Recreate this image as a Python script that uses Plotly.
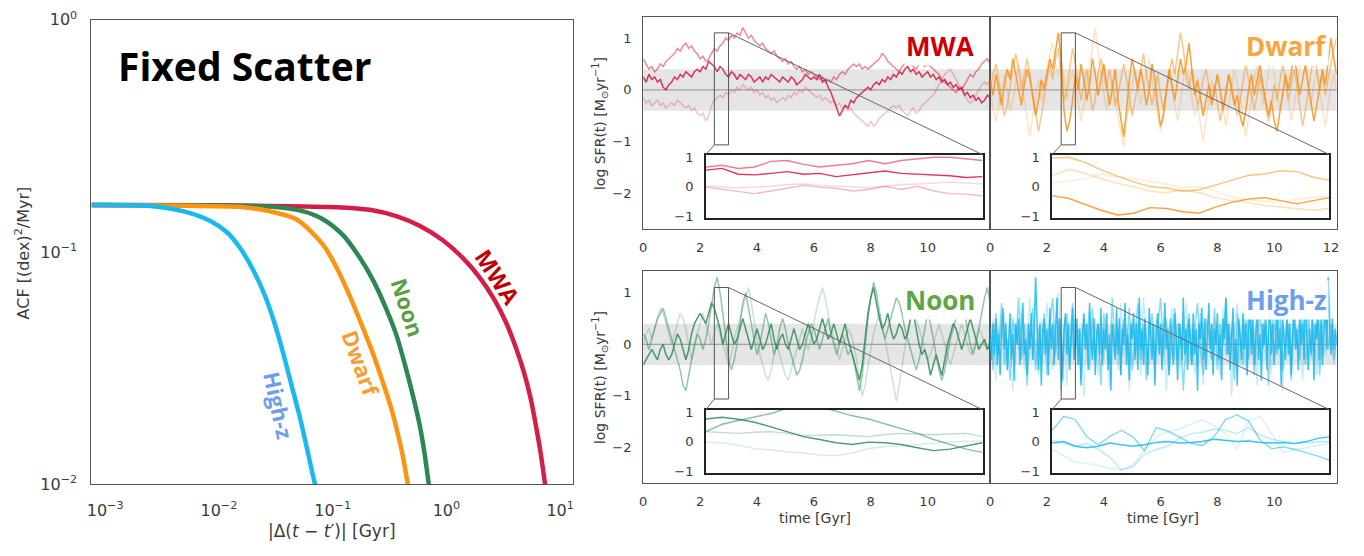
import plotly.graph_objects as go

W, H = 1364, 556

# ---------------- Left panel: ACF curves ----------------
HIGHZ_LAG = [7.6e-4, 2.51e-3, 4.92e-3, 8.41e-3, 0.01178, 0.01542, 0.02017, 0.02553, 0.03125,
             0.0369, 0.0437, 0.0517, 0.0591, 0.0653, 0.0700, 0.075]
HIGHZ_ACF = [0.1594, 0.1579, 0.1496, 0.1361, 0.1217, 0.1038, 0.0831, 0.0645, 0.0484,
             0.0364, 0.0265, 0.0193, 0.01449, 0.01159, 0.0100, 0.0083]
DWARF_LAG = [7.6e-4, 4.92e-3, 0.01648, 0.02825, 0.0483, 0.0828, 0.1082, 0.1418,
             0.1855, 0.227, 0.2775, 0.328, 0.375, 0.415, 0.459, 0.49]
DWARF_ACF = [0.1594, 0.158, 0.156, 0.1496, 0.1381, 0.1072, 0.0858, 0.0645,
             0.0469, 0.0364, 0.02735, 0.0212, 0.01644, 0.01318, 0.0100, 0.0085]
NOON_LAG = [7.6e-4, 0.01, 0.02825, 0.0553, 0.0828, 0.1239, 0.1735, 0.227, 0.2965, 0.363,
            0.4295, 0.508, 0.581, 0.643, 0.701, 0.74]
NOON_ACF = [0.1594, 0.1585, 0.1569, 0.1496, 0.1381, 0.1179, 0.0944, 0.0755, 0.0568, 0.0440,
            0.0331, 0.0241, 0.0181, 0.0136, 0.0100, 0.0085]
MWA_LAG = [7.6e-4, 0.01, 0.0553, 0.1082, 0.212, 0.363, 0.581, 0.930, 1.392, 1.95, 2.64, 3.33,
           4.08, 4.83, 5.52, 6.10, 6.75, 7.38, 7.8]
MWA_ACF = [0.1594, 0.1590, 0.1569, 0.156, 0.152, 0.1427, 0.1297, 0.1124, 0.0944, 0.078,
           0.0624, 0.05, 0.0388, 0.0301, 0.0233, 0.0181, 0.0136, 0.0100, 0.0085]

ACF_XTICKS = [1e-3, 1e-2, 1e-1, 1, 10]
ACF_XTEXT = ["10<sup>−3</sup>", "10<sup>−2</sup>", "10<sup>−1</sup>", "10<sup>0</sup>", "10<sup>1</sup>"]
ACF_YTICKS = [1e-2, 1e-1, 1]
ACF_YTEXT = ["10<sup>−2</sup>", "10<sup>−1</sup>", "10<sup>0</sup>"]

# ---------------- Right panels: log SFR(t) time series ----------------
MAIN_STEP = 0.1
HIGHZ_STEP = 0.05

MWA_DARK = [0.25, 0.15, 0.3, 0.2, 0.25, 0.15, 0.2, 0.05, 0.0, 0.1,
            0.15, 0.25, 0.2, 0.3, 0.25, 0.35, 0.3, 0.25, 0.35, 0.4,
            0.35, 0.45, 0.4, 0.55, 0.5, 0.45, 0.35, 0.45, 0.4, 0.3,
            0.25, 0.35, 0.3, 0.2, 0.3, 0.25, 0.2, 0.3, 0.25, 0.15,
            0.2, 0.25, 0.15, 0.25, 0.2, 0.3, 0.25, 0.2, 0.15, 0.25,
            0.2, 0.15, 0.25, 0.2, 0.1, 0.15, 0.2, 0.3, 0.25, 0.2,
            0.25, 0.2, 0.3, 0.15, 0.2, 0.05, -0.05, -0.2, -0.35, -0.5,
            -0.4, -0.3, -0.35, -0.2, -0.25, -0.15, -0.1, -0.05, 0.0, 0.05,
            0.0, 0.1, 0.15, 0.1, 0.2, 0.15, 0.25, 0.2, 0.3, 0.25,
            0.35, 0.3, 0.4, 0.45, 0.35, 0.4, 0.3, 0.35, 0.25, 0.3,
            0.35, 0.25, 0.3, 0.2, 0.25, 0.15, 0.2, 0.1, 0.15, 0.05,
            0.1, 0.0, 0.05, -0.1, -0.05, -0.15, -0.1, -0.2, -0.15, -0.25,
            -0.2, -0.1, -0.15]
MWA_MED = [0.6, 0.5, 0.4, 0.45, 0.35, 0.4, 0.5, 0.45, 0.55, 0.6,
           0.65, 0.7, 0.8, 0.75, 0.85, 0.9, 0.8, 0.85, 0.75, 0.7,
           0.6, 0.65, 0.55, 0.6, 0.7, 0.8, 0.75, 0.85, 0.9, 1.0,
           0.95, 1.05, 1.0, 1.1, 1.05, 1.2, 1.1, 1.0, 1.05, 0.95,
           0.9, 0.85, 0.9, 0.8, 0.75, 0.7, 0.75, 0.65, 0.6, 0.55,
           0.6, 0.5, 0.55, 0.45, 0.4, 0.45, 0.35, 0.4, 0.3, 0.35,
           0.3, 0.25, 0.2, 0.25, 0.15, 0.2, 0.15, 0.25, 0.2, 0.3,
           0.35, 0.3, 0.4, 0.45, 0.5, 0.45, 0.5, 0.4, 0.45, 0.4,
           0.45, 0.5, 0.55, 0.6, 0.7, 0.65, 0.55, 0.5, 0.45, 0.4,
           0.35, 0.45, 0.5, 0.55, 0.5, 0.45, 0.4, 0.5, 0.55, 0.45,
           0.5, 0.45, 0.4, 0.35, 0.3, 0.2, 0.15, 0.1, 0.05, 0.0,
           -0.05, 0.05, 0.0, 0.1, 0.2, 0.3, 0.25, 0.35, 0.4, 0.5,
           0.55, 0.6, 0.5]
MWA_LIGHT = [-0.15, -0.25, -0.2, -0.3, -0.25, -0.2, -0.3, -0.25, -0.35, -0.3,
             -0.25, -0.3, -0.2, -0.25, -0.3, -0.35, -0.3, -0.4, -0.35, -0.45,
             -0.5, -0.45, -0.6, -0.5, -0.3, -0.2, -0.15, -0.1, -0.15, -0.05,
             -0.1, 0.0, -0.05, 0.05, 0.0, 0.1, 0.05, 0.0, 0.05, -0.05,
             0.0, -0.1, -0.05, -0.15, -0.1, -0.2, -0.15, -0.25, -0.2, -0.15,
             -0.2, -0.1, -0.15, -0.05, -0.1, 0.0, -0.05, 0.05, 0.0, -0.05,
             -0.1, -0.15, -0.1, -0.2, -0.15, -0.2, -0.25, -0.2, -0.3, -0.25,
             -0.35, -0.3, -0.4, -0.35, -0.45, -0.5, -0.55, -0.6, -0.65, -0.7,
             -0.6, -0.7, -0.65, -0.55, -0.5, -0.45, -0.4, -0.35, -0.3, -0.35,
             -0.3, -0.4, -0.45, -0.5, -0.4, -0.35, -0.45, -0.4, -0.3, -0.25,
             -0.2, -0.15, -0.1, 0.0, 0.1, 0.2, 0.3, 0.35, 0.4, 0.3,
             0.2, 0.1, 0.0, -0.1, -0.2, -0.25, -0.2, -0.1, 0.0, 0.1,
             0.15, 0.1, 0.2]

DWARF_DARK = [0.2, -0.1, 0.3, 0.0, -0.3, 0.1, 0.4, 0.2, 0.6, 0.3,
              0.0, -0.3, 0.1, 0.4, 0.2, -0.2, -0.5, -0.2, 0.2, 0.0,
              0.3, 0.6, 0.4, 0.8, 1.1, 0.6, -0.4, -0.8, -0.6, -0.2,
              0.3, 0.0, 0.5, 0.2, -0.2, 0.1, 0.6, 0.3, -0.1, 0.2,
              0.5, 0.1, -0.3, 0.0, 0.4, -0.2, -0.6, -0.9, -0.4, 0.2,
              0.6, 0.3, 0.0, 0.4, 0.1, -0.3, 0.0, 0.5, 0.2, -0.3,
              -0.7, -0.5, 0.0, 0.4, 0.1, -0.2, 0.2, 0.6, 0.3, 0.5,
              0.9, 0.4, -0.1, 0.2, -0.2, -0.5, -0.2, 0.1, -0.3, 0.0,
              0.3, 0.0, -0.4, -0.1, 0.3, 0.0, -0.3, -0.1, -0.5, -0.7,
              -0.4, 0.0, 0.3, -0.1, 0.2, 0.5, 0.1, -0.2, -0.5, -0.2,
              -0.6, -0.8, -0.4, 0.0, 0.3, 0.0, 0.4, 0.7, 0.3, -0.1,
              0.2, 0.5, 0.1, -0.3, -0.6, -0.3, 0.1, 0.4, 0.1, 0.6,
              1.0, 0.6, 0.3]
DWARF_MED = [0.0, 0.3, 0.5, 0.2, -0.2, -0.5, -0.3, 0.1, 0.4, 0.7,
             0.4, 0.0, 0.3, 0.6, 0.3, -0.1, -0.4, -0.8, -0.5, -0.1,
             0.2, 0.5, 0.2, 0.6, 0.8, 0.3, -0.2, 0.0, 0.4, 0.8,
             0.5, 0.1, -0.2, 0.1, 0.4, 0.0, -0.4, -0.2, 0.3, 0.6,
             0.3, 0.0, 0.4, 0.1, -0.3, -0.1, 0.2, 0.5, 0.2, -0.2,
             -0.5, -0.2, 0.1, 0.4, 0.7, 0.3, 0.0, -0.3, 0.0, 0.3,
             -0.1, -0.4, 0.0, 0.3, 0.6, 0.3, 0.7, 1.1, 0.8, 0.3,
             0.0, 0.4, 0.1, -0.3, -0.1, 0.2, 0.4, 0.1, -0.2, 0.1,
             -0.3, -0.6, -0.3, 0.0, 0.3, 0.1, -0.2, -0.5, -0.2, 0.2,
             0.5, 0.2, -0.1, -0.4, -0.1, 0.3, 0.0, -0.3, -0.6, -0.3,
             0.1, -0.2, 0.2, 0.5, 0.2, -0.2, 0.1, 0.4, 0.1, -0.3,
             -0.7, -0.4, 0.0, 0.4, 0.7, 0.4, 0.0, 0.3, -0.1, 0.2,
             0.5, 0.8, 1.0]
DWARF_LIGHT = [0.1, -0.4, -0.6, -0.3, 0.0, 0.3, 0.0, -0.4, -0.2, 0.2,
               0.5, 0.2, -0.2, -0.6, -0.9, -0.5, -0.1, 0.2, -0.2, 0.1,
               0.4, 0.7, 0.9, 0.5, 0.3, 0.6, 0.2, -0.2, 0.1, 0.4,
               0.1, -0.3, -0.6, -0.3, 0.1, 0.5, 0.8, 1.2, 0.7, 0.3,
               -0.1, -0.4, -0.1, 0.2, -0.2, -0.5, -0.8, -1.1, -0.6, -0.2,
               0.1, 0.4, 0.1, -0.3, 0.0, 0.3, 0.6, 0.2, -0.1, -0.5,
               -0.8, -0.4, 0.0, 0.3, 0.0, -0.3, -0.6, -0.2, 0.2, 0.5,
               0.2, -0.2, -0.5, -0.3, -0.7, -1.0, -0.6, -0.2, 0.2, -0.1,
               0.3, 0.0, -0.4, -0.7, -0.3, 0.1, 0.4, 0.1, -0.2, -0.5,
               -0.9, -0.5, -0.1, 0.2, 0.5, 0.1, -0.3, 0.0, 0.4, 0.7,
               0.3, -0.1, -0.4, -0.1, 0.2, -0.2, -0.6, -0.3, 0.1, 0.5,
               0.8, 0.4, 0.0, -0.3, 0.1, 0.4, 0.0, -0.4, -0.7, -0.3,
               0.1, 0.3, 0.0]

NOON_DARK = [-0.4, -0.3, -0.2, -0.1, -0.2, -0.3, -0.1, 0.0, -0.2, -0.3,
             -0.2, 0.0, 0.2, 0.1, -0.1, -0.3, -0.1, 0.2, 0.4, 0.5,
             0.6, 0.5, 0.4, 0.6, 0.8, 0.7, 0.5, 0.3, 0.0, 0.2,
             0.4, 0.2, 0.0, 0.1, 0.3, 0.5, 0.3, 0.1, -0.1, 0.1,
             0.3, 0.1, -0.1, 0.0, 0.2, 0.4, 0.1, -0.1, 0.1, 0.2,
             0.0, -0.1, 0.1, 0.3, 0.1, -0.1, 0.0, 0.2, 0.4, 0.2,
             0.0, 0.1, 0.3, 0.5, 0.3, 0.1, 0.2, 0.4, 0.2, 0.0,
             0.2, 0.4, 0.1, -0.1, -0.3, -0.5, -0.7, -0.4, 0.1, 0.6,
             0.9, 1.1, 0.8, 0.5, 0.3, 0.4, 0.6, 0.3, 0.1, 0.2,
             0.4, 0.3, 0.1, 0.2, 0.5, 0.6, 0.3, 0.0, -0.2, -0.1,
             -0.3, -0.6, -0.4, -0.2, -0.4, -0.6, -0.3, 0.0, 0.2, 0.4,
             0.3, 0.1, -0.1, 0.1, 0.3, 0.5, 0.3, 0.1, -0.1, 0.0,
             0.1, -0.1, 0.0]
NOON_MED = [0.2, 0.1, -0.1, 0.1, 0.3, 0.5, 0.6, 0.7, 0.5, 0.3,
            0.1, -0.1, -0.3, -0.5, -0.8, -0.9, -0.6, -0.3, 0.0, 0.2,
            0.1, -0.1, 0.1, 0.4, 0.8, 1.1, 1.3, 1.0, 0.6, 0.2,
            -0.3, -0.5, -0.3, 0.0, 0.4, 0.8, 1.0, 0.7, 0.4, 0.1,
            -0.2, 0.0, 0.3, 0.6, 0.4, 0.1, -0.2, 0.0, 0.3, 0.5,
            0.3, 0.0, -0.2, -0.4, -0.6, -0.5, -0.3, 0.0, 0.2, 0.4,
            0.3, 0.1, -0.1, 0.1, 0.3, 0.5, 0.2, 0.0, -0.2, 0.0,
            0.2, 0.0, -0.2, -0.1, -0.3, -0.6, -0.9, -0.6, 0.0, 0.5,
            0.9, 1.2, 1.0, 0.6, 0.3, 0.1, 0.3, 0.5, 0.7, 0.9,
            0.8, 0.6, 0.3, 0.1, -0.1, -0.3, -0.5, -0.3, 0.0, 0.3,
            0.6, 0.4, 0.1, -0.2, -0.5, -0.7, -0.5, -0.2, 0.1, 0.3,
            0.5, 0.7, 0.9, 0.6, 0.3, 0.0, -0.2, 0.0, 0.3, 0.6,
            0.9, 1.1, 0.8]
NOON_LIGHT = [0.0, 0.2, 0.3, 0.1, 0.3, 0.5, 0.7, 0.6, 0.4, 0.2,
              0.0, 0.2, 0.4, 0.6, 0.5, 0.3, 0.0, -0.3, -0.1, 0.2,
              0.4, 0.6, 0.4, 0.2, 0.0, 0.2, 0.4, 0.2, 0.0, -0.2,
              -0.4, -0.2, 0.1, 0.3, 0.5, 0.7, 0.9, 1.1, 0.8, 0.4,
              0.1, -0.2, -0.4, -0.6, -0.7, -0.5, -0.2, 0.0, -0.2, -0.4,
              -0.6, -0.7, -0.5, -0.3, -0.1, 0.1, 0.3, 0.1, -0.1, 0.1,
              0.4, 0.7, 0.9, 1.1, 0.9, 0.6, 0.3, 0.1, -0.1, -0.3,
              -0.1, 0.1, 0.3, 0.2, 0.0, -0.3, -0.7, -1.0, -0.8, -0.4,
              -0.1, 0.2, 0.4, 0.6, 0.4, 0.1, -0.2, -0.5, -0.8, -1.1,
              -0.8, -0.4, 0.0, 0.3, 0.5, 0.7, 0.5, 0.3, 0.1, -0.1,
              -0.3, -0.2, 0.0, 0.2, 0.4, 0.2, 0.0, -0.2, -0.4, -0.2,
              0.0, 0.2, 0.4, 0.2, 0.0, -0.2, -0.1, 0.1, 0.3, 0.2,
              0.0, -0.1, 0.1]

HIGHZ_DARK = [0.1, -0.3, 0.4, -0.2, 0.5, -0.4, 0.2, -0.6, 0.3, 0.7, -0.1, 0.4, -0.5, 0.1, 0.6, -0.3, 0.2, -0.7, 0.4, 0.0,
              0.5, -0.4, 0.3, 0.8, -0.2, 0.1, -0.6, 0.4, -0.1, 0.6, -0.3, 0.3, 1.3, 0.2, -0.5, 0.4, -0.8, 0.1, 0.5, -0.2,
              0.3, -0.6, 0.7, -0.1, 0.4, -0.4, 0.2, 0.9, -0.3, 0.5, 0.0, -0.7, 0.3, 0.6, -0.2, 0.4, -0.5, 0.2, 0.7, -0.3,
              0.1, 0.5, -0.4, 0.3, -0.8, 0.2, 0.6, -0.1, 0.4, -0.5, 0.8, 0.0, -0.3, 0.5, -0.6, 0.2, 0.4, -0.2, 0.7, -0.4,
              0.3, -0.1, 0.6, -0.5, 0.2, -0.9, 0.4, 0.1, -0.3, 0.7, -0.2, 0.5, -0.6, 0.3, 0.0, 0.8, -0.4, 0.2, -0.7, 0.4,
              0.1, 0.6, -0.3, 0.4, -0.5, 0.9, -0.1, 0.3, -0.4, 0.5, 0.0, -0.6, 0.7, 0.2, -0.3, 0.4, -0.8, 0.3, 0.6, -0.2,
              0.4, -0.5, 0.2, 0.8, -0.1, 0.3, -0.6, 0.5, 0.0, -0.4, 0.6, 0.1, -0.7, 0.4, 0.2, -0.3, 0.9, -0.2, 0.3, -0.5,
              0.5, 0.0, -0.4, 0.6, -0.2, 0.3, -0.9, 0.4, 0.1, 0.7, -0.3, 0.5, -0.5, 0.2, 0.8, -0.1, 0.4, -0.6, 0.3, 0.0,
              0.6, -0.3, 0.2, -0.7, 0.5, 0.1, 0.9, -0.2, 0.4, -0.5, 0.3, 0.7, -0.4, 0.1, -0.8, 0.5, 0.2, -0.3, 0.6, -0.1,
              0.4, -0.6, 0.3, 0.8, -0.2, 0.5, -0.4, 0.1, 0.7, -0.3, 0.2, -0.7, 0.4, 0.0, 0.6, -0.5, 0.3, 0.9, -0.2, 0.4,
              -0.4, 0.2, 0.6, -0.1, 0.3, -0.8, 0.5, 0.1, -0.3, 0.7, -0.2, 0.4, -0.6, 0.2, 0.8, -0.1, 0.3, -0.5, 0.6, 0.0,
              0.4, -0.3, 1.0, 0.2, -0.5, 0.3, -0.2, 0.6, -0.7, 0.4, 0.1, 0.7, -0.3, 0.5, -0.4, 0.2, 0.8, -0.1, 1.3, 0.3,
              -0.2, 0.5, -0.1, 0.3, 0.0]
HIGHZ_MED = [0.3, -0.5, 0.6, -0.2, 0.8, -0.4, 0.1, -0.7, 0.5, 0.0,
             0.9, -0.3, 0.4, -0.8, 0.2, 0.7, -0.5, 0.3, -0.1, 0.6,
             -0.6, 0.4, 0.9, -0.2, 0.5, -0.9, 0.2, 0.6, -0.4, 0.8,
             -0.1, 0.3, -0.7, 0.5, 0.1, -0.5, 0.7, -0.3, 0.4, -0.8,
             0.6, 0.0, -0.4, 0.9, -0.2, 0.3, -0.6, 0.5, -0.1, 0.7,
             -0.5, 0.2, 0.8, -0.3, 0.4, -0.7, 0.1, 0.6, -0.4, 0.3,
             0.9, -0.2, 0.5, -0.6, 0.2, 0.7, -0.3, 0.4, -0.9, 0.1,
             0.6, -0.4, 0.3, 0.8, -0.1, -0.6, 0.5, 0.2, -0.3, 0.7,
             -0.5, 0.4, 0.0, 0.9, -0.2, 0.3, -0.7, 0.6, 0.1, -0.4,
             0.8, -0.3, 0.5, -0.6, 0.2, 0.7, -0.1, 0.4, -0.8, 0.3,
             0.6, -0.2, 0.9, -0.5, 0.1, 0.4, -0.7, 0.5, 0.0, -0.3,
             0.7, -0.4, 0.3, 0.8, -0.2, 0.5, -0.6, 0.2, 1.1, -0.1,
             0.4, -0.3, 0.2]
HIGHZ_LIGHT = [-0.2, 0.5, -0.7, 0.3, 0.1, 0.6, -0.4, 0.2, -0.9, 0.4,
               -0.1, 0.7, -0.5, 0.3, 0.9, -0.3, 0.1, -0.6, 0.5, -0.2,
               0.8, -0.1, -0.5, 0.4, 1.0, -0.3, 0.2, -0.8, 0.5, 0.0,
               0.6, -0.4, 0.3, -1.0, 0.2, 0.7, -0.2, 0.5, -0.6, 0.1,
               -0.3, 0.6, -0.8, 0.4, 0.1, -0.5, 0.8, -0.2, 0.3, -0.9,
               0.5, -0.1, 0.4, -0.6, 0.9, 0.0, -0.4, 0.3, -0.7, 0.6,
               -0.2, 0.4, -0.9, 0.2, 0.7, -0.3, 0.5, -0.5, 0.1, 0.8,
               -0.4, 0.3, -0.6, 0.0, 0.6, -0.8, 0.4, 0.1, -0.3, 0.5,
               0.2, -0.6, 0.7, -0.2, 0.4, -1.0, 0.3, 0.8, -0.4, 0.1,
               -0.5, 0.6, -0.1, 0.3, -0.8, 0.5, 0.9, -0.3, 0.2, -0.6,
               0.4, -0.2, 0.7, -0.9, 0.3, 0.1, -0.4, 0.8, -0.1, 0.5,
               -0.7, 0.2, 0.6, -0.3, 0.4, -0.6, 0.9, 0.1, -0.2, 1.2,
               0.3, -0.4, 0.1]

# ---------------- Insets: zoom on 2.5-3.0 Gyr ----------------
INSET_T0, INSET_T1 = 2.5, 3.0
MWA_IN = [
    [0.02, -0.01, -0.03, 0.0, 0.02, 0.08, 0.10, 0.05, 0.02, -0.01, -0.03, 0.02, 0.08, 0.10, 0.13, 0.16, 0.13, 0.10],
    [-0.01, -0.09, -0.16, -0.23, -0.14, -0.05, 0.05, -0.01, -0.05, -0.14, -0.09, 0.02, -0.09, 0.02, -0.14, -0.23, -0.25, -0.31],
    [0.68, 0.74, 0.63, 0.68, 0.87, 0.90, 0.77, 0.68, 0.74, 0.79, 0.90, 0.79, 0.90, 0.96, 1.01, 1.01, 0.96, 0.90],
    [0.57, 0.63, 0.43, 0.41, 0.46, 0.52, 0.43, 0.46, 0.35, 0.41, 0.46, 0.54, 0.46, 0.43, 0.41, 0.38, 0.32, 0.35],
]
DWARF_IN = [
    [0.12, 0.19, 0.28, 0.44, 0.33, 0.28, 0.19, 0.09, -0.02, 0.01, -0.13, -0.34, -0.45, -0.49, -0.53, -0.42, -0.37, -0.31],
    [0.39, 0.60, 0.47, 0.28, 0.12, 0.01, -0.15, -0.20, -0.10, -0.20, -0.37, -0.47, -0.53, -0.63, -0.69, -0.74, -0.80, -0.74],
    [0.98, 1.01, 0.84, 0.58, 0.37, 0.17, 0.01, -0.04, -0.15, -0.10, 0.06, 0.23, 0.39, 0.44, 0.55, 0.52, 0.33, 0.23],
    [-0.31, -0.39, -0.60, -0.80, -0.96, -0.90, -0.71, -0.74, -0.85, -0.90, -0.69, -0.53, -0.42, -0.37, -0.47, -0.58, -0.47, -0.37],
]
NOON_IN = [
    [-0.01, -0.03, -0.12, -0.23, -0.27, -0.34, -0.38, -0.45, -0.47, -0.38, -0.23, -0.16, -0.14, -0.09, -0.03, 0.0, 0.02, 0.02],
    [0.35, 0.32, 0.29, 0.33, 0.35, 0.29, 0.21, 0.23, 0.24, 0.21, 0.18, 0.25, 0.29, 0.27, 0.24, 0.27, 0.29, 0.18],
    [0.35, 0.60, 0.73, 0.86, 0.97, 1.15, 1.25, 1.2, 1.05, 0.89, 0.78, 0.62, 0.46, 0.29, 0.08, -0.09, -0.25, -0.36],
    [0.78, 0.84, 0.77, 0.67, 0.51, 0.35, 0.18, 0.08, -0.03, -0.09, -0.01, -0.03, -0.09, -0.20, -0.30, -0.25, -0.14, -0.03],
]
HIGHZ_IN = [
    [-0.26, -0.47, -0.69, -0.74, -0.80, -0.90, -0.96, -0.80, -0.26, 0.17, 0.33, 0.44, 0.60, 0.76, 0.55, 0.28, -0.26, 0.71, 0.87, 0.28, -0.37, -0.26, -0.20, -0.13, -0.04],
    [0.06, -0.04, -0.15, -0.06, -0.26, -0.53, -0.96, -0.85, -0.42, -0.26, -0.15, 0.12, 0.28, 0.33, 0.44, 0.39, 0.28, 0.49, 0.23, 0.09, 0.01, -0.04, -0.02, 0.0, 0.01],
    [0.39, 0.87, 0.76, 0.17, -0.10, 0.19, 0.39, 0.17, -0.31, 0.49, 0.37, 0.17, -0.04, -0.13, 0.17, 0.76, 0.92, 0.71, 0.06, -0.24, -0.17, -0.26, -0.37, -0.49, -0.63],
    [-0.04, 0.01, -0.15, -0.20, -0.15, -0.04, -0.10, -0.15, -0.10, -0.02, 0.01, -0.04, -0.02, 0.01, 0.09, 0.06, 0.01, 0.03, -0.02, -0.04, -0.02, -0.06, 0.01, 0.12, 0.17],
]

BAND_HALF = 0.4
X_RANGE = [0, 12.2]
Y_RANGE = [-2.69, 1.41]
INSET_YR = [-1.06, 1.1]

# ---------------- styling ----------------
TICK_FONT = dict(family="DejaVu Sans", size=13, color="#3a3a3a")
FRAME = "#555555"


def rgba(rgb, a):
    return "rgba(%d,%d,%d,%.2f)" % (rgb[0], rgb[1], rgb[2], a)


PANELS = [
    dict(name="MWA", rgb=(220, 20, 60), label_color="#cc0000", series=[MWA_LIGHT, MWA_MED, MWA_DARK],
         steps=[MAIN_STEP] * 3, inset=MWA_IN, col=0, row=0, xt=[0, 2, 4, 6, 8, 10], ylab=True),
    dict(name="Dwarf", rgb=(250, 145, 20), label_color="#f9a43c", series=[DWARF_LIGHT, DWARF_MED, DWARF_DARK],
         steps=[MAIN_STEP] * 3, inset=DWARF_IN, col=1, row=0, xt=[0, 2, 4, 6, 8, 10, 12], ylab=False),
    dict(name="Noon", rgb=(46, 139, 87), label_color="#5ea644", series=[NOON_LIGHT, NOON_MED, NOON_DARK],
         steps=[MAIN_STEP] * 3, inset=NOON_IN, col=0, row=1, xt=[0, 2, 4, 6, 8, 10], ylab=True),
    dict(name="High-z", rgb=(20, 185, 240), label_color="#6d9eeb", series=[HIGHZ_LIGHT, HIGHZ_MED, HIGHZ_DARK],
         steps=[MAIN_STEP, MAIN_STEP, HIGHZ_STEP], inset=HIGHZ_IN, col=1, row=1, xt=[0, 2, 4, 6, 8, 10], ylab=False),
]
ALPHAS = [0.25, 0.5, 0.85]
INSET_ALPHAS = [0.18, 0.3, 0.55, 0.85]

COL_X = [[642 / W, 991 / W], [991 / W, 1339.5 / W]]
ROW_Y = [[1 - 227 / H, 1 - 6 / H], [1 - 490.7 / H, 1 - 270.7 / H]]
INSET_X = [[705 / W, 983.3 / W], [1053.3 / W, 1332.3 / W]]
INSET_Y = [[1 - 215 / H, 1 - 149.3 / H], [1 - 480 / H, 1 - 414.3 / H]]

fig = go.Figure()
layout = dict(
    width=W, height=H, margin=dict(l=0, r=0, t=0, b=0),
    paper_bgcolor="white", plot_bgcolor="white", showlegend=False,
    font=dict(family="DejaVu Sans", color="#3a3a3a"),
)

# Left ACF panel
for lag, acf, col in [(MWA_LAG, MWA_ACF, "#d41e4a"), (NOON_LAG, NOON_ACF, "#2e8653"),
                      (DWARF_LAG, DWARF_ACF, "#fb9413"), (HIGHZ_LAG, HIGHZ_ACF, "#19b8ee")]:
    fig.add_trace(go.Scatter(x=lag, y=acf, mode="lines", xaxis="x", yaxis="y",
                             line=dict(color=col, width=4.5, shape="spline", smoothing=0.8),
                             hoverinfo="skip"))
layout["xaxis"] = dict(domain=[87 / W, 571 / W], type="log", range=[-3.12, 1.11], anchor="y",
                       showline=True, mirror=True, linecolor=FRAME, linewidth=1.2, showgrid=False,
                       zeroline=False, ticks="", tickvals=ACF_XTICKS, ticktext=ACF_XTEXT,
                       tickfont=dict(family="DejaVu Sans", size=16, color="#3a3a3a"), ticklabelstandoff=11)
layout["yaxis"] = dict(domain=[1 - 492 / H, 1 - 9 / H], type="log", range=[-2, 0], anchor="x",
                       showline=True, mirror=True, linecolor=FRAME, linewidth=1.2, showgrid=False,
                       zeroline=False, ticks="", tickvals=ACF_YTICKS, ticktext=ACF_YTEXT,
                       tickfont=dict(family="DejaVu Sans", size=16, color="#3a3a3a"), ticklabelstandoff=10)

shapes = []
annotations = []


def to_paper(xv, yv, xdom, xr, ydom, yr):
    px = xdom[0] + (xv - xr[0]) / (xr[1] - xr[0]) * (xdom[1] - xdom[0])
    py = ydom[0] + (yv - yr[0]) / (yr[1] - yr[0]) * (ydom[1] - ydom[0])
    return px, py


def note(text, xpix, ypix, size, color, family="DejaVu Sans", angle=0, **kw):
    d = dict(text=text, x=xpix / W, y=1 - ypix / H, xref="paper", yref="paper", showarrow=False,
             xanchor="center", yanchor="middle", textangle=angle,
             font=dict(family=family, size=size, color=color))
    d.update(kw)
    return d


# Main panels
for i, p in enumerate(PANELS):
    n = i + 2
    xa, ya = "x%d" % n, "y%d" % n
    xdom, ydom = COL_X[p["col"]], ROW_Y[p["row"]]
    for vals, step, a in zip(p["series"], p["steps"], ALPHAS):
        t = [round(k * step, 3) for k in range(len(vals))]
        fig.add_trace(go.Scatter(x=t, y=vals, mode="lines", xaxis=xa, yaxis=ya,
                                 line=dict(color=rgba(p["rgb"], a), width=1.5), hoverinfo="skip"))
    layout["xaxis%d" % n] = dict(domain=xdom, range=X_RANGE, anchor=ya, showline=True, mirror=True,
                                 linecolor=FRAME, linewidth=1.2, showgrid=False, zeroline=False, ticks="",
                                 tickvals=p["xt"], tickfont=TICK_FONT, ticklabelstandoff=6)
    layout["yaxis%d" % n] = dict(domain=ydom, range=Y_RANGE, anchor=xa, showline=True, mirror=True,
                                 linecolor=FRAME, linewidth=1.2, showgrid=False, zeroline=False, ticks="",
                                 tickvals=[-2, -1, 0, 1], showticklabels=p["ylab"], tickfont=TICK_FONT,
                                 ticklabelstandoff=8)
    shapes.append(dict(type="rect", xref=xa + " domain", yref=ya, x0=0, x1=1, y0=-BAND_HALF, y1=BAND_HALF,
                       fillcolor="rgba(150,150,150,0.25)", line=dict(width=0), layer="below"))
    shapes.append(dict(type="line", xref=xa + " domain", yref=ya, x0=0, x1=1, y0=0, y1=0,
                       line=dict(color="rgba(120,120,120,0.8)", width=1), layer="below"))
    shapes.append(dict(type="rect", xref=xa, yref=ya, x0=INSET_T0, x1=INSET_T1, y0=INSET_YR[0], y1=INSET_YR[1],
                       line=dict(color="#555555", width=1), layer="above"))
    m = i + 6
    ixa, iya = "x%d" % m, "y%d" % m
    ixdom, iydom = INSET_X[p["col"]], INSET_Y[p["row"]]
    for vals, a in zip(p["inset"], INSET_ALPHAS):
        npts = len(vals)
        t = [INSET_T0 + (INSET_T1 - INSET_T0) * k / (npts - 1) for k in range(npts)]
        fig.add_trace(go.Scatter(x=t, y=vals, mode="lines", xaxis=ixa, yaxis=iya,
                                 line=dict(color=rgba(p["rgb"], a), width=1.4), hoverinfo="skip"))
    layout["xaxis%d" % m] = dict(domain=ixdom, range=[INSET_T0, INSET_T1], anchor=iya, showline=True,
                                 mirror=True, linecolor="#222222", linewidth=1.5, showgrid=False,
                                 zeroline=False, ticks="", showticklabels=False)
    layout["yaxis%d" % m] = dict(domain=iydom, range=INSET_YR, anchor=ixa, showline=True, mirror=True,
                                 linecolor="#222222", linewidth=1.5, showgrid=False, zeroline=False,
                                 ticks="", tickvals=[-1, 0, 1], tickfont=TICK_FONT, ticklabelstandoff=8)
    shapes.append(dict(type="line", xref=ixa + " domain", yref=iya, x0=0, x1=1, y0=0, y1=0,
                       line=dict(color="rgba(150,150,150,0.9)", width=1.5), layer="below"))
    tr = to_paper(INSET_T1, INSET_YR[1], xdom, X_RANGE, ydom, Y_RANGE)
    bl = to_paper(INSET_T0, INSET_YR[0], xdom, X_RANGE, ydom, Y_RANGE)
    shapes.append(dict(type="line", xref="paper", yref="paper", x0=tr[0], y0=tr[1], x1=ixdom[1], y1=iydom[1],
                       line=dict(color="#666666", width=1), layer="above"))
    shapes.append(dict(type="line", xref="paper", yref="paper", x0=bl[0], y0=bl[1], x1=ixdom[0], y1=iydom[1],
                       line=dict(color="#666666", width=1), layer="above"))
    lx = (xdom[0] + (xdom[1] - xdom[0]) * 0.855) * W
    ly = (1 - ydom[1]) * H + 30
    annotations.append(note("<b>%s</b>" % p["name"], lx, ly, 26, p["label_color"], family="Open Sans",
                            bgcolor="white", borderpad=1))

annotations += [
    note("<b>Fixed Scatter</b>", 241, 57, 39, "black", family="Open Sans"),
    note("<b>MWA</b>", 496, 276, 23, "#c00000", family="Open Sans", angle=57),
    note("<b>Noon</b>", 405, 308, 22, "#5a9e3f", family="Open Sans", angle=72),
    note("<b>Dwarf</b>", 358, 366, 22, "#f59e33", family="Open Sans", angle=70),
    note("<b>High-z</b>", 276, 410, 22, "#6d9eeb", family="Open Sans", angle=78),
    note("ACF [(dex)<sup>2</sup>/Myr]", 18, 251, 16, "#3a3a3a", angle=-90),
    note("|Δ(<i>t</i> − <i>t</i>′)| [Gyr]", 329, 540, 17, "#3a3a3a"),
    note("log SFR(t) [M<sub>⊙</sub>yr<sup>−1</sup>]", 598, 117, 14, "#3a3a3a", angle=-90),
    note("log SFR(t) [M<sub>⊙</sub>yr<sup>−1</sup>]", 598, 381, 14, "#3a3a3a", angle=-90),
    note("time [Gyr]", 815, 527, 14, "#3a3a3a"),
    note("time [Gyr]", 1165, 527, 14, "#3a3a3a"),
]

layout["shapes"] = shapes
layout["annotations"] = annotations
fig.update_layout(**layout)
fig.write_html("out.html")
